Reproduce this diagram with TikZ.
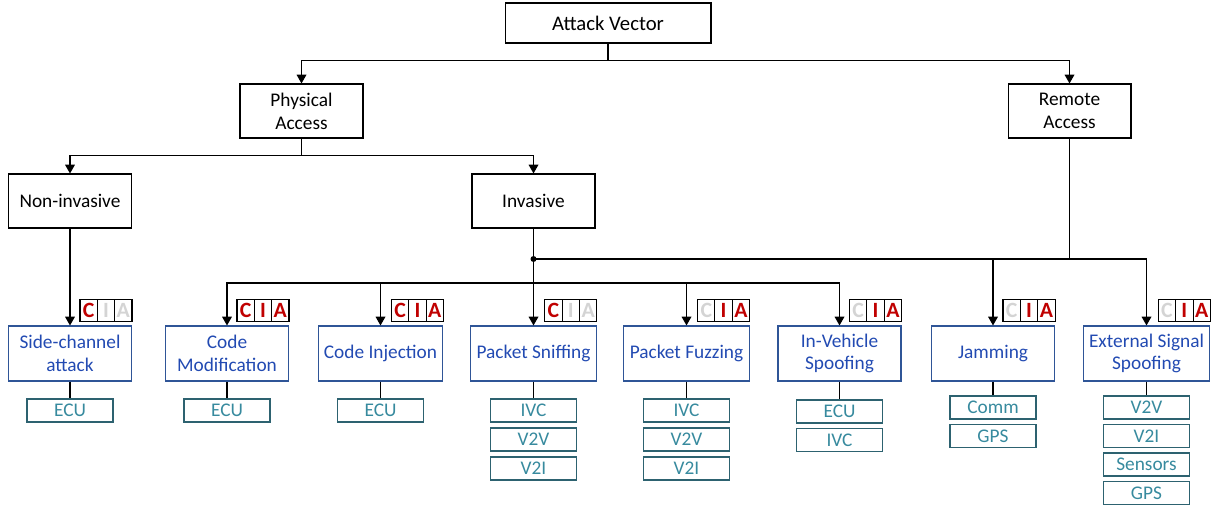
\documentclass[tikz,border=0pt]{standalone}
\usepackage{fontspec}
\setmainfont{Carlito}
\usetikzlibrary{calc,arrows.meta}
\definecolor{atkline}{RGB}{47,85,151}
\definecolor{atktext}{RGB}{34,74,178}
\definecolor{tgtline}{RGB}{45,98,112}
\definecolor{tgttext}{RGB}{55,138,158}
\definecolor{ciared}{RGB}{192,0,0}
\definecolor{ciagray}{RGB}{212,212,212}
\tikzset{
  basefont/.style={font=\fontsize{11}{13}\selectfont},
  rootbox/.style={draw, line width=0.6pt, font=\fontsize{11.8}{13}\selectfont, minimum width=4.12cm, minimum height=0.8cm},
  plainbox/.style={draw, line width=0.6pt, basefont, align=center, minimum width=2.46cm, minimum height=1.08cm},
  atkbox/.style={draw=atkline, text=atktext, line width=0.6pt, basefont, align=center, minimum width=2.46cm, minimum height=1.1cm},
  tgtbox/.style={draw=tgtline, text=tgttext, line width=0.6pt, basefont, minimum width=1.72cm, minimum height=0.46cm, inner sep=0pt},
  ciacell/.style={draw, line width=0.6pt, outer sep=0pt, inner sep=0pt, minimum width=0.347cm, minimum height=0.44cm, font=\fontsize{12.4}{13}\selectfont\bfseries},
  arr/.style={line width=0.7pt, -{Triangle[length=5pt,width=5.5pt]}},
  wire/.style={line width=0.7pt}
}
% C, I, A cells above the right end of a box
\newcommand{\ciabadge}[4]{%
  \node[ciacell, text=#4, anchor=south east] (#1-a) at ($(#1.north east)+(0,-4)$) {A};
  \node[ciacell, text=#3, anchor=east] (#1-i) at (#1-a.west) {I};
  \node[ciacell, text=#2, anchor=east] (#1-c) at (#1-i.west) {C};
}

\begin{document}
\begin{tikzpicture}[x=0.02cm, y=-0.02cm]
\useasboundingbox (0,0) rectangle (1213,508);

\node[rootbox] (av) at (608,23) {Attack Vector};
\node[plainbox] (pa) at (301.5,111) {Physical\\Access};
\node[plainbox] (ra) at (1069.5,111) {Remote\\Access};
\node[plainbox] (ni) at (70,201) {Non-invasive};
\node[plainbox] (inv) at (533.5,201) {Invasive};

% attacks
\node[atkbox] (sc) at (70,353.5) {Side-channel\\attack};
\node[atkbox] (cm) at (227,353.5) {Code\\Modification};
\node[atkbox] (ci) at (380.5,353.5) {Code Injection};
\node[atkbox] (ps) at (533.5,353.5) {Packet Sniffing};
\node[atkbox] (pf) at (686.5,353.5) {Packet Fuzzing};
\node[atkbox] (iv) at (839.5,353.5) {In-Vehicle\\Spoofing};
\node[atkbox] (jm) at (993,353.5) {Jamming};
\node[atkbox] (es) at (1146.5,353.5) {External Signal\\Spoofing};

\ciabadge{sc}{ciared}{ciagray}{ciagray}
\ciabadge{cm}{ciared}{ciared}{ciared}
\ciabadge{ci}{ciared}{ciared}{ciared}
\ciabadge{ps}{ciared}{ciagray}{ciagray}
\ciabadge{pf}{ciagray}{ciared}{ciared}
\ciabadge{iv}{ciagray}{ciared}{ciared}
\ciabadge{jm}{ciagray}{ciared}{ciared}
\ciabadge{es}{ciagray}{ciared}{ciared}

% targets
\node[tgtbox] (sc1) at (70,410.5) {ECU};
\node[tgtbox] (cm1) at (227,410.5) {ECU};
\node[tgtbox] (ci1) at (380.5,410.5) {ECU};
\node[tgtbox] (ps1) at (533.5,410.5) {IVC};
\node[tgtbox] (ps2) at (533.5,439.5) {V2V};
\node[tgtbox] (ps3) at (533.5,468.5) {V2I};
\node[tgtbox] (pf1) at (686.5,410.5) {IVC};
\node[tgtbox] (pf2) at (686.5,439.5) {V2V};
\node[tgtbox] (pf3) at (686.5,468.5) {V2I};
\node[tgtbox] (iv1) at (839.5,411.5) {ECU};
\node[tgtbox] (iv2) at (839.5,440) {IVC};
\node[tgtbox] (jm1) at (993,407.5) {Comm};
\node[tgtbox] (jm2) at (993,436) {GPS};
\node[tgtbox] (es1) at (1146.5,407.5) {V2V};
\node[tgtbox] (es2) at (1146.5,436) {V2I};
\node[tgtbox] (es3) at (1146.5,464.5) {Sensors};
\node[tgtbox] (es4) at (1146.5,493) {GPS};

% tree
\draw[arr] (av.south) -- ++(0,17) -| (pa.north);
\draw[arr] (av.south) -- ++(0,17) -| (ra.north);
\draw[arr] (pa.south) -- ++(0,17) -| (ni.north);
\draw[arr] (pa.south) -- ++(0,17) -| (inv.north);
\draw[arr] (ni.south) -- (sc.north);

\coordinate (split) at (533.5,259);
\coordinate (bus) at (533.5,283);
\draw[arr] (inv.south) -- (ps.north);
\fill (split) circle[radius=3];
\draw[arr] (bus) -| (cm.north);
\draw[arr] (bus) -| (ci.north);
\draw[arr] (bus) -| (pf.north);
\draw[arr] (bus) -| (iv.north);
\draw[wire] (ra.south) |- (split);
\draw[arr] (split) -| (jm.north);
\draw[arr] (split) -| (es.north);

\draw[wire] (sc.south) -- (sc1.north);
\draw[wire] (cm.south) -- (cm1.north);
\draw[wire] (ci.south) -- (ci1.north);
\draw[wire] (ps.south) -- (ps1.north);
\draw[wire] (pf.south) -- (pf1.north);
\draw[wire] (iv.south) -- (iv1.north);
\draw[wire] (jm.south) -- (jm1.north);
\draw[wire] (es.south) -- (es1.north);
\end{tikzpicture}
\end{document}
